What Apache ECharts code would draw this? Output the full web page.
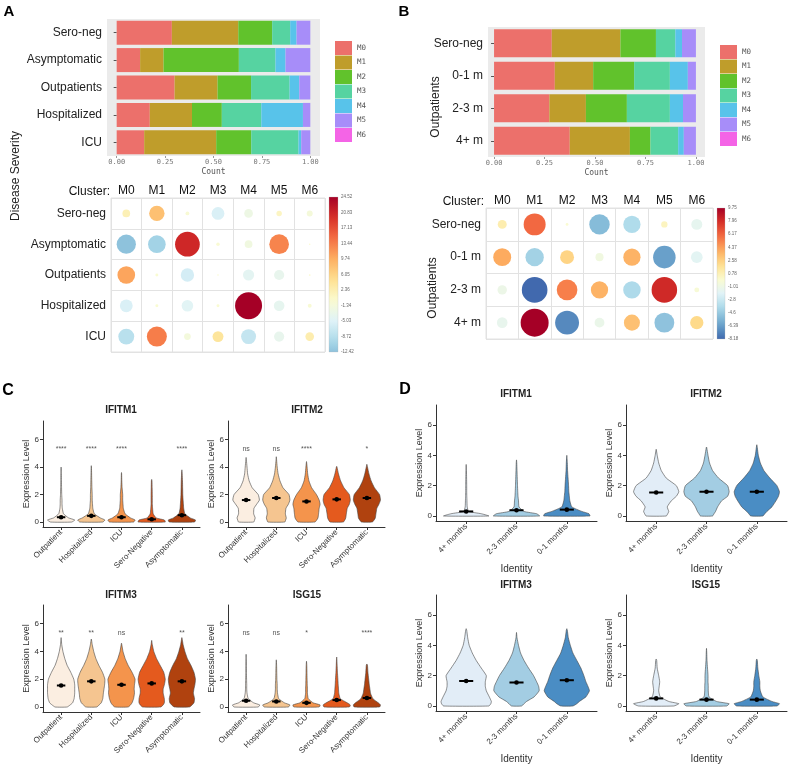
<!DOCTYPE html>
<html><head><meta charset="utf-8">
<script src="https://cdn.jsdelivr.net/npm/echarts@6.0.0/dist/echarts.min.js"></script>
<style>html,body{margin:0;padding:0;background:#fff}#c{width:788px;height:772px}</style>
</head><body><div id="c"></div>
<script>
// ---------------- DATA ----------------
const clusters = ['M0','M1','M2','M3','M4','M5','M6'];
const clusterColors = ['#EC706B','#BF9D2B','#61C22C','#56D3A1','#58C3EA','#A78DF9','#F464E6'];
const groupsA = ['Sero-neg','Asymptomatic','Outpatients','Hospitalized','ICU'];
const groupsB = ['Sero-neg','0-1 m','2-3 m','4+ m'];
// cluster proportions (rows = groups, cols = M0..M6)
const propA = [
  [0.285,0.343,0.175,0.093,0.033,0.071,0],
  [0.121,0.121,0.389,0.189,0.052,0.128,0],
  [0.299,0.222,0.173,0.199,0.050,0.057,0],
  [0.171,0.218,0.154,0.204,0.215,0.038,0],
  [0.142,0.372,0.181,0.244,0.014,0.047,0]];
const propB = [
  [0.286,0.340,0.176,0.096,0.033,0.069,0],
  [0.301,0.190,0.203,0.177,0.089,0.040,0],
  [0.274,0.181,0.203,0.213,0.065,0.064,0],
  [0.375,0.298,0.102,0.137,0.028,0.060,0]];
// residuals for bubble plots
const resA = [
  [2.0, 8.0, -0.5, -5.5, -2.5, 1.0, -1.2],
  [-12.42, -10.5, 20.5, -0.4, -2.0, 13.0, 0],
  [10.5, -0.3, -6.0, 0, -4.2, -3.5, 0.1],
  [-5.5, -0.3, -4.5, -0.3, 24.52, -3.8, -0.5],
  [-8.5, 13.5, -1.5, 4.0, -7.5, -3.5, 2.5]];
const resB = [
  [1.0, 6.0, -0.1, -5.2, -3.7, 0.5, -1.5],
  [4.0, -4.2, 2.4, -0.8, 3.7, -6.3, -1.7],
  [-1.1, -8.18, 5.3, 3.7, -3.8, 8.1, -0.3],
  [-1.4, 9.75, -7.1, -1.2, 3.2, -4.9, 2.2]];
const ticksA = [24.52, 20.83, 17.13, 13.44, 9.74, 6.05, 2.36, -1.34, -5.03, -8.72, -12.42];
const ticksB = [9.75, 7.96, 6.17, 4.37, 2.58, 0.78, -1.01, -2.8, -4.6, -6.39, -8.18];
const barTicks = [0, 0.25, 0.5, 0.75, 1];
const exprTicks = [0, 2, 4, 6];

// violin data: half-widths (category units) at these expression levels
const levels = [0,0.15,0.3,0.6,1,1.3,1.6,2,2.5,3,3.5,4,4.5,5];
const groupsC = ['Outpatient','Hospitalized','ICU','Sero-Negative','Asymptomatic'];
const groupsD = ['4+ months','2-3 months','0-1 months'];

const vC_IFITM1 = [
  [0.35,0.45,0.25,0.08,0.04,0.03,0.03,0.02,0.015,0.01,0.008,0.005,0,0],
  [0.38,0.45,0.3,0.1,0.05,0.04,0.03,0.03,0.02,0.015,0.01,0.005,0,0],
  [0.4,0.45,0.3,0.12,0.06,0.05,0.04,0.04,0.02,0.01,0.005,0,0,0],
  [0.45,0.42,0.15,0.05,0.03,0.02,0.02,0.02,0.015,0.01,0,0,0,0],
  [0.42,0.45,0.28,0.1,0.06,0.05,0.04,0.03,0.025,0.02,0.01,0,0,0]];
const topC_IFITM1 = [4.0,4.1,3.6,3.1,3.8];
const meanC_IFITM1 = [0.35,0.45,0.35,0.2,0.5];
const sigC_IFITM1 = ['****','****','****','','****'];

const vC_IFITM2 = [
  [0.25,0.28,0.3,0.25,0.26,0.35,0.44,0.4,0.2,0.1,0.05,0.03,0.01,0],
  [0.28,0.31,0.33,0.3,0.32,0.4,0.45,0.42,0.22,0.12,0.06,0.03,0.01,0],
  [0.28,0.34,0.38,0.4,0.42,0.45,0.42,0.33,0.17,0.08,0.04,0.02,0,0],
  [0.22,0.27,0.3,0.32,0.35,0.42,0.45,0.42,0.24,0.13,0.06,0.01,0,0],
  [0.18,0.24,0.28,0.3,0.33,0.4,0.45,0.42,0.25,0.14,0.07,0.02,0,0]];
const topC_IFITM2 = [4.7,4.75,4.4,4.05,4.2];
const meanC_IFITM2 = [1.6,1.75,1.5,1.65,1.75];
const sigC_IFITM2 = ['ns','ns','****','','*'];

const vC_IFITM3 = [
  [0.2,0.3,0.38,0.43,0.45,0.45,0.45,0.42,0.32,0.2,0.12,0.06,0.02,0],
  [0.18,0.26,0.33,0.38,0.4,0.42,0.44,0.45,0.37,0.25,0.15,0.08,0.03,0],
  [0.22,0.3,0.35,0.4,0.43,0.42,0.43,0.45,0.35,0.22,0.12,0.05,0.01,0],
  [0.3,0.38,0.42,0.42,0.38,0.38,0.42,0.45,0.4,0.28,0.16,0.07,0.02,0],
  [0.25,0.34,0.4,0.42,0.38,0.4,0.43,0.45,0.4,0.3,0.18,0.1,0.04,0]];
const topC_IFITM3 = [5.0,4.9,4.6,4.8,5.0];
const meanC_IFITM3 = [1.55,1.85,1.6,1.7,1.85];
const sigC_IFITM3 = ['**','**','ns','','**'];

const vC_ISG15 = [
  [0.4,0.45,0.25,0.07,0.03,0.02,0.02,0.015,0.01,0.01,0.005,0,0,0],
  [0.4,0.45,0.27,0.08,0.04,0.03,0.03,0.02,0.015,0.01,0,0,0,0],
  [0.42,0.45,0.22,0.06,0.03,0.03,0.025,0.02,0.015,0.01,0,0,0,0],
  [0.42,0.45,0.35,0.12,0.07,0.06,0.05,0.04,0.025,0.015,0.005,0,0,0],
  [0.42,0.45,0.38,0.2,0.12,0.1,0.08,0.06,0.035,0.02,0,0,0,0]];
const topC_ISG15 = [3.8,3.4,3.3,3.6,3.1];
const meanC_ISG15 = [0.45,0.4,0.3,0.5,0.65];
const sigC_ISG15 = ['ns','ns','*','','****'];

const vD_IFITM1 = [
  [0.45,0.3,0.05,0.02,0.015,0.012,0.01,0.01,0.008,0.005,0.003,0,0,0],
  [0.46,0.4,0.15,0.05,0.04,0.03,0.025,0.02,0.015,0.01,0.005,0,0,0],
  [0.46,0.44,0.3,0.1,0.06,0.05,0.04,0.035,0.025,0.015,0.01,0,0,0]];
const topD_IFITM1 = [3.4,3.7,4.0];
const meanD_IFITM1 = [0.3,0.38,0.42];

const vD_IFITM2 = [
  [0.2,0.23,0.25,0.22,0.3,0.4,0.45,0.4,0.2,0.1,0.05,0.02,0,0],
  [0.12,0.15,0.18,0.22,0.3,0.42,0.45,0.42,0.24,0.12,0.06,0.03,0.005,0],
  [0.12,0.16,0.2,0.3,0.38,0.43,0.45,0.4,0.26,0.14,0.07,0.03,0.01,0]];
const topD_IFITM2 = [4.4,4.55,4.7];
const meanD_IFITM2 = [1.55,1.6,1.6];

const vD_IFITM3 = [
  [0.45,0.49,0.5,0.46,0.4,0.38,0.38,0.4,0.3,0.2,0.12,0.06,0.03,0.01],
  [0.1,0.15,0.2,0.35,0.45,0.44,0.4,0.34,0.24,0.15,0.08,0.04,0.01,0],
  [0.12,0.2,0.25,0.38,0.45,0.42,0.38,0.34,0.28,0.2,0.12,0.07,0.03,0.01]];
const topD_IFITM3 = [5.1,4.85,5.1];
const meanD_IFITM3 = [1.65,1.55,1.7];

const vD_ISG15 = [
  [0.35,0.45,0.25,0.08,0.05,0.06,0.07,0.05,0.02,0.01,0,0,0,0],
  [0.4,0.45,0.2,0.05,0.035,0.035,0.03,0.03,0.02,0.01,0.005,0,0,0],
  [0.4,0.45,0.3,0.12,0.07,0.06,0.06,0.04,0.02,0.01,0,0,0,0]];
const topD_ISG15 = [3.1,3.8,3.1];
const meanD_ISG15 = [0.5,0.42,0.42];

const colorsC = ['#FBEEE1','#F5C590','#F4944C','#E45A1E','#B0420F'];
const colorsD = ['#E2EDF7','#A3CDE3','#4A8DC4'];

// ---------------- HELPERS ----------------
const FONT = '"Liberation Sans", Arial, sans-serif';
const rdylbu = ['#313695','#4575b4','#74add1','#abd9e9','#e0f3f8','#fbfbd0','#fee090','#fdae61','#f46d43','#d73027','#a50026'];
function hex(h){return [parseInt(h.substr(1,2),16),parseInt(h.substr(3,2),16),parseInt(h.substr(5,2),16)];}
function colorAt(v, M){
  const n = rdylbu.length;
  let t = (v + M) / (2*M) * (n-1);
  t = Math.max(0, Math.min(n-1, t));
  const i = Math.floor(t), f = t - i;
  const a = hex(rdylbu[i]), b = hex(rdylbu[Math.min(i+1,n-1)]);
  return 'rgb(' + a.map((x,k)=>Math.round(x + (b[k]-x)*f)).join(',') + ')';
}

const grids = [], xAxes = [], yAxes = [], series = [];
function addGrid(g){ grids.push(g); return grids.length - 1; }

// ---------- stacked bars ----------
function stackedBars(groups, props, g, xmin, xmax, barW, stackId){
  const gi = addGrid(Object.assign({show:true, backgroundColor:'#ebebeb', borderWidth:0}, g));
  xAxes.push({gridIndex:gi, type:'value', min:xmin, max:xmax,
    axisLine:{show:false},
    axisTick:{show:true, customValues:barTicks, length:2, lineStyle:{color:'#999'}},
    axisLabel:{customValues:barTicks, formatter:v=>v.toFixed(2), fontSize:7, color:'#777', fontFamily:'DejaVu Sans Mono', margin:3},
    splitLine:{show:false},
    name:'Count', nameLocation:'middle', nameGap:12,
    nameTextStyle:{fontSize:8, color:'#555', fontFamily:'DejaVu Sans Mono'}});
  yAxes.push({gridIndex:gi, type:'category', data:groups, inverse:true,
    axisLine:{show:false},
    axisTick:{show:true, alignWithLabel:true, length:3, lineStyle:{color:'#555'}},
    axisLabel:{fontSize:12, color:'#222', fontFamily:FONT, margin:5}});
  const xi = xAxes.length-1, yi = yAxes.length-1;
  clusters.forEach((c,k)=>{
    series.push({type:'bar', name:c, stack:stackId, xAxisIndex:xi, yAxisIndex:yi, barWidth:barW,
      data:props.map(r=>r[k]), itemStyle:{color:clusterColors[k]}, silent:true});
  });
}
stackedBars(groupsA, propA, {left:107, top:19, width:213, height:137}, -0.05, 1.05, 24, 'A');
stackedBars(groupsB, propB, {left:488, top:27, width:217, height:130}, -0.03, 1.045, 28, 'B');

// ---------- bubble + colorbar ----------
function bubbles(groups, res, g, maxD, ticks, cb){
  const gi = addGrid(Object.assign({show:true, borderColor:'#e2e2e2', borderWidth:1}, g));
  xAxes.push({gridIndex:gi, type:'category', data:clusters, position:'top',
    axisLine:{show:false}, axisTick:{show:false},
    axisLabel:{fontSize:12, color:'#111', fontFamily:FONT, margin:1},
    splitLine:{show:true, lineStyle:{color:'#e2e2e2'}}});
  yAxes.push({gridIndex:gi, type:'category', data:groups, inverse:true,
    axisLine:{show:false}, axisTick:{show:false},
    axisLabel:{fontSize:12, color:'#222', fontFamily:FONT, margin:5},
    splitLine:{show:true, lineStyle:{color:'#e2e2e2'}}});
  const xi = xAxes.length-1, yi = yAxes.length-1;
  const M = Math.max(Math.abs(ticks[0]), Math.abs(ticks[ticks.length-1]));
  const data = [];
  res.forEach((row,r)=>row.forEach((v,c)=>data.push([c, r, v])));
  series.push({type:'scatter', xAxisIndex:xi, yAxisIndex:yi, data:data, silent:true,
    symbolSize: d => Math.max(1.5, maxD * Math.sqrt(Math.abs(d[2]) / M)),
    itemStyle:{opacity:1, color: p => colorAt(p.value[2], M)}});
  // colorbar
  const ci = addGrid(cb);
  const vmin = ticks[ticks.length-1], vmax = ticks[0];
  xAxes.push({gridIndex:ci, type:'value', min:0, max:1, show:false});
  yAxes.push({gridIndex:ci, type:'value', min:vmin, max:vmax, position:'right',
    axisLine:{show:false}, axisTick:{show:false}, splitLine:{show:false},
    axisLabel:{customValues:ticks, formatter:v=>String(v), fontSize:4.5, color:'#666', margin:3}});
  const stops = [];
  for (let i=0;i<=20;i++){ const v = vmax - (vmax - vmin)*i/20; stops.push({offset:i/20, color:colorAt(v, M)}); }
  series.push({type:'custom', xAxisIndex:xAxes.length-1, yAxisIndex:yAxes.length-1, silent:true,
    data:[[0, vmin, vmax]],
    renderItem:(params, api)=>{
      const p0 = api.coord([0, api.value(2)]), p1 = api.coord([1, api.value(1)]);
      return {type:'rect', shape:{x:p0[0], y:p0[1], width:p1[0]-p0[0], height:p1[1]-p0[1]},
        style:{fill:new echarts.graphic.LinearGradient(0,0,0,1,stops), stroke:'#bbb', lineWidth:0.3}};
    }});
}
bubbles(groupsA, resA, {left:111, top:198, width:214, height:154}, 27, ticksA, {left:329, top:197, width:9, height:155});
bubbles(groupsB, resB, {left:486, top:208, width:227, height:131}, 28, ticksB, {left:717, top:208, width:8, height:131});

// ---------- violins ----------
function violin(p, g, groups, colors, xr, yr, half, identity){
  const gi = addGrid(g);
  const cats = groups.map((_,i)=>i+1);
  xAxes.push({gridIndex:gi, type:'value', min:xr[0], max:xr[1],
    axisLine:{show:true, onZero:false, lineStyle:{color:'#333', width:1}},
    axisTick:{show:true, customValues:cats, length:3, lineStyle:{color:'#333'}},
    axisLabel:{customValues:cats, formatter:v=>groups[Math.round(v)-1], rotate:45, fontSize:8, color:'#333', fontFamily:FONT, margin:4},
    splitLine:{show:false},
    name: identity ? 'Identity' : '', nameLocation:'middle', nameGap:43,
    nameTextStyle:{fontSize:10, color:'#333', fontFamily:FONT}});
  yAxes.push({gridIndex:gi, type:'value', min:yr[0], max:yr[1],
    axisLine:{show:true, onZero:false, lineStyle:{color:'#333', width:1}},
    axisTick:{show:true, customValues:exprTicks, length:3, lineStyle:{color:'#333'}},
    axisLabel:{customValues:exprTicks, fontSize:8, color:'#333', fontFamily:FONT, margin:4},
    splitLine:{show:false},
    name:'Expression Level', nameLocation:'middle', nameGap:12,
    nameTextStyle:{fontSize:9, color:'#333', fontFamily:FONT}});
  series.push({type:'custom', xAxisIndex:xAxes.length-1, yAxisIndex:yAxes.length-1, silent:true, clip:false,
    data: cats.map((c,i)=>[c, p.mean[i]]),
    renderItem:(params, api)=>{
      const i = params.dataIndex, x = api.value(0), m = api.value(1);
      const w = p.shape[i], top = p.top[i];
      const left = [], right = [];
      for (let j=0;j<levels.length;j++){
        if (levels[j] >= top) break;
        left.push(api.coord([x - w[j], levels[j]]));
        right.push(api.coord([x + w[j], levels[j]]));
      }
      const pts = left.concat([api.coord([x, top])], right.reverse());
      const a = api.coord([x - half, m]), b = api.coord([x + half, m]), c = api.coord([x, m]);
      const kids = [
        {type:'polygon', shape:{points:pts, smooth:0.15}, style:{fill:colors[i], stroke:'#444', lineWidth:0.6}},
        {type:'line', shape:{x1:a[0], y1:a[1], x2:b[0], y2:b[1]}, style:{stroke:'#000', lineWidth:2}},
        {type:'circle', shape:{cx:c[0], cy:c[1], r:2.3}, style:{fill:'#000'}}
      ];
      if (p.sig && p.sig[i]){
        const t = api.coord([x, 5.3]);
        kids.push({type:'text', x:t[0], y:t[1], style:{text:p.sig[i], fontSize:7, fill:'#555', align:'center', verticalAlign:'middle', fontFamily:FONT}});
      }
      return {type:'group', children:kids};
    }});
}
const xrC = [0.4, 5.6], yrC = [-0.36, 7.35];
violin({shape:vC_IFITM1, top:topC_IFITM1, mean:meanC_IFITM1, sig:sigC_IFITM1}, {left:43, top:421, width:157, height:106}, groupsC, colorsC, xrC, yrC, 0.14, false);
violin({shape:vC_IFITM2, top:topC_IFITM2, mean:meanC_IFITM2, sig:sigC_IFITM2}, {left:228, top:421, width:157, height:106}, groupsC, colorsC, xrC, yrC, 0.14, false);
violin({shape:vC_IFITM3, top:topC_IFITM3, mean:meanC_IFITM3, sig:sigC_IFITM3}, {left:43, top:605, width:157, height:107}, groupsC, colorsC, xrC, yrC, 0.14, false);
violin({shape:vC_ISG15, top:topC_ISG15, mean:meanC_ISG15, sig:sigC_ISG15}, {left:228, top:605, width:157, height:107}, groupsC, colorsC, xrC, yrC, 0.14, false);
const xrD = [0.4, 3.6], yrD = [-0.33, 7.32];
violin({shape:vD_IFITM1, top:topD_IFITM1, mean:meanD_IFITM1}, {left:436, top:405, width:161, height:116}, groupsD, colorsD, xrD, yrD, 0.14, true);
violin({shape:vD_IFITM2, top:topD_IFITM2, mean:meanD_IFITM2}, {left:626, top:405, width:161, height:116}, groupsD, colorsD, xrD, yrD, 0.14, true);
violin({shape:vD_IFITM3, top:topD_IFITM3, mean:meanD_IFITM3}, {left:436, top:595, width:161, height:116}, groupsD, colorsD, xrD, yrD, 0.14, true);
violin({shape:vD_ISG15, top:topD_ISG15, mean:meanD_ISG15}, {left:626, top:595, width:161, height:116}, groupsD, colorsD, xrD, yrD, 0.14, true);

// ---------- free text ----------
function txt(s, x, y, o){ return Object.assign({type:'text', x:x, y:y, silent:true,
  style:Object.assign({text:s, fontFamily:FONT, fill:'#111', align:'center', verticalAlign:'middle'}, o && o.style || {})}, o && o.rot ? {rotation:o.rot} : {}); }
const graphic = [
  txt('A', 9, 12, {style:{fontSize:15, fontWeight:'bold', fill:'#000'}}),
  txt('B', 404, 12, {style:{fontSize:15, fontWeight:'bold', fill:'#000'}}),
  txt('C', 8, 391, {style:{fontSize:16, fontWeight:'bold', fill:'#000'}}),
  txt('D', 405, 390, {style:{fontSize:16, fontWeight:'bold', fill:'#000'}}),
  txt('Disease Severity', 16, 176, {rot:Math.PI/2, style:{fontSize:12, fill:'#222'}}),
  txt('Outpatients', 436, 107, {rot:Math.PI/2, style:{fontSize:12, fill:'#222'}}),
  txt('Outpatients', 433, 288, {rot:Math.PI/2, style:{fontSize:12, fill:'#222'}}),
  txt('Cluster:', 110, 192, {style:{fontSize:12, fill:'#111', align:'right'}}),
  txt('Cluster:', 484, 202, {style:{fontSize:12, fill:'#111', align:'right'}}),
  txt('IFITM1', 121, 410, {style:{fontSize:10, fontWeight:'bold', fill:'#222'}}),
  txt('IFITM2', 307, 410, {style:{fontSize:10, fontWeight:'bold', fill:'#222'}}),
  txt('IFITM3', 121, 595, {style:{fontSize:10, fontWeight:'bold', fill:'#222'}}),
  txt('ISG15', 307, 595, {style:{fontSize:10, fontWeight:'bold', fill:'#222'}}),
  txt('IFITM1', 516, 394, {style:{fontSize:10, fontWeight:'bold', fill:'#222'}}),
  txt('IFITM2', 706, 394, {style:{fontSize:10, fontWeight:'bold', fill:'#222'}}),
  txt('IFITM3', 516, 585, {style:{fontSize:10, fontWeight:'bold', fill:'#222'}}),
  txt('ISG15', 706, 585, {style:{fontSize:10, fontWeight:'bold', fill:'#222'}})
];

const legendBase = {data:clusters, orient:'vertical', itemWidth:17, itemHeight:14, itemGap:0.5, icon:'rect',
  selectedMode:false, textStyle:{fontSize:7.5, color:'#555', fontFamily:'DejaVu Sans Mono'}};

const chart = echarts.init(document.getElementById('c'), null, {renderer:'canvas'});
chart.setOption({
  animation:false,
  backgroundColor:'#fff',
  textStyle:{fontFamily:FONT},
  grid:grids, xAxis:xAxes, yAxis:yAxes, series:series,
  legend:[Object.assign({left:330, top:36}, legendBase), Object.assign({left:715, top:40}, legendBase)],
  graphic:graphic
});
</script></body></html>
